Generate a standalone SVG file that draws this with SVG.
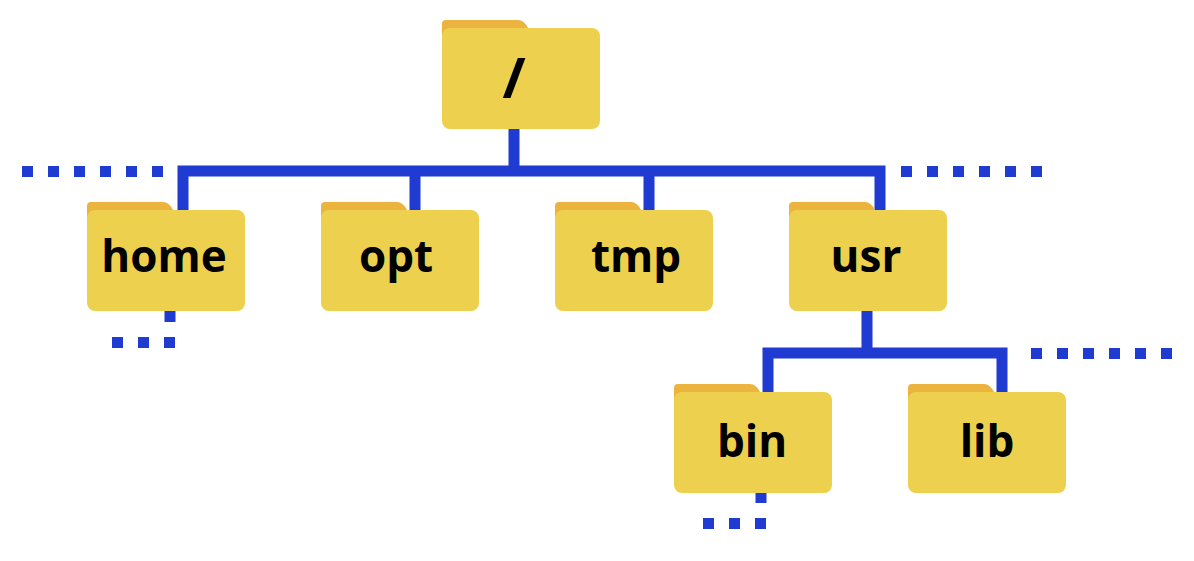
<svg xmlns="http://www.w3.org/2000/svg" width="1194" height="561" viewBox="0 0 1194 561">
<style>
.tab{fill:#ECB33E}.body{fill:#EDD14E}
.lbl{font-family:"Open Sans","DejaVu Sans",sans-serif;font-weight:bold;font-size:44px;fill:#000;text-anchor:middle}
.ln{stroke:#1F3BD2;stroke-width:11;fill:none}
.dot{fill:#1F3BD2}
</style>
<defs>
<g id="folder">
<path class="tab" d="M0,28 V4 Q0,0 4,0 H76 Q82,0 86,8 V28 Z"/>
<rect class="body" x="0" y="8" width="158" height="101" rx="8"/>
</g>
</defs>
<g id="connectors">
<path class="ln" d="M514,129 V171 M183,210 V171 H880 V210 M415,171 V210 M649,171 V210"/>
<path class="ln" d="M867,311 V353 M768,392 V353 H1002 V392"/>
<path class="ln" d="M170,311 V322 M761,493 V503"/>
<g class="dot">
<rect x="22" y="166" width="11" height="11"/><rect x="48" y="166" width="11" height="11"/><rect x="74" y="166" width="11" height="11"/><rect x="100" y="166" width="11" height="11"/><rect x="126" y="166" width="11" height="11"/><rect x="152" y="166" width="11" height="11"/>
<rect x="901" y="166" width="11" height="11"/><rect x="927" y="166" width="11" height="11"/><rect x="953" y="166" width="11" height="11"/><rect x="979" y="166" width="11" height="11"/><rect x="1005" y="166" width="11" height="11"/><rect x="1031" y="166" width="11" height="11"/>
<rect x="112" y="337" width="11" height="11"/><rect x="138" y="337" width="11" height="11"/><rect x="164" y="337" width="11" height="11"/>
<rect x="1031" y="348" width="11" height="11"/><rect x="1057" y="348" width="11" height="11"/><rect x="1083" y="348" width="11" height="11"/><rect x="1109" y="348" width="11" height="11"/><rect x="1135" y="348" width="11" height="11"/><rect x="1161" y="348" width="11" height="11"/>
<rect x="703" y="518" width="11" height="11"/><rect x="729" y="518" width="11" height="11"/><rect x="755" y="518" width="11" height="11"/>
</g>
</g>
<g id="root"><use href="#folder" x="442" y="20"/><text class="lbl" x="514" y="98" style="font-size:56px">/</text></g>
<g id="home"><use href="#folder" x="87" y="202"/><text class="lbl" x="164" y="272">home</text></g>
<g id="opt"><use href="#folder" x="321" y="202"/><text class="lbl" x="396" y="272">opt</text></g>
<g id="tmp"><use href="#folder" x="555" y="202"/><text class="lbl" x="636" y="272">tmp</text></g>
<g id="usr"><use href="#folder" x="789" y="202"/><text class="lbl" x="866" y="272">usr</text></g>
<g id="bin"><use href="#folder" x="674" y="384"/><text class="lbl" x="752" y="457">bin</text></g>
<g id="lib"><use href="#folder" x="908" y="384"/><text class="lbl" x="987" y="457">lib</text></g>
</svg>
